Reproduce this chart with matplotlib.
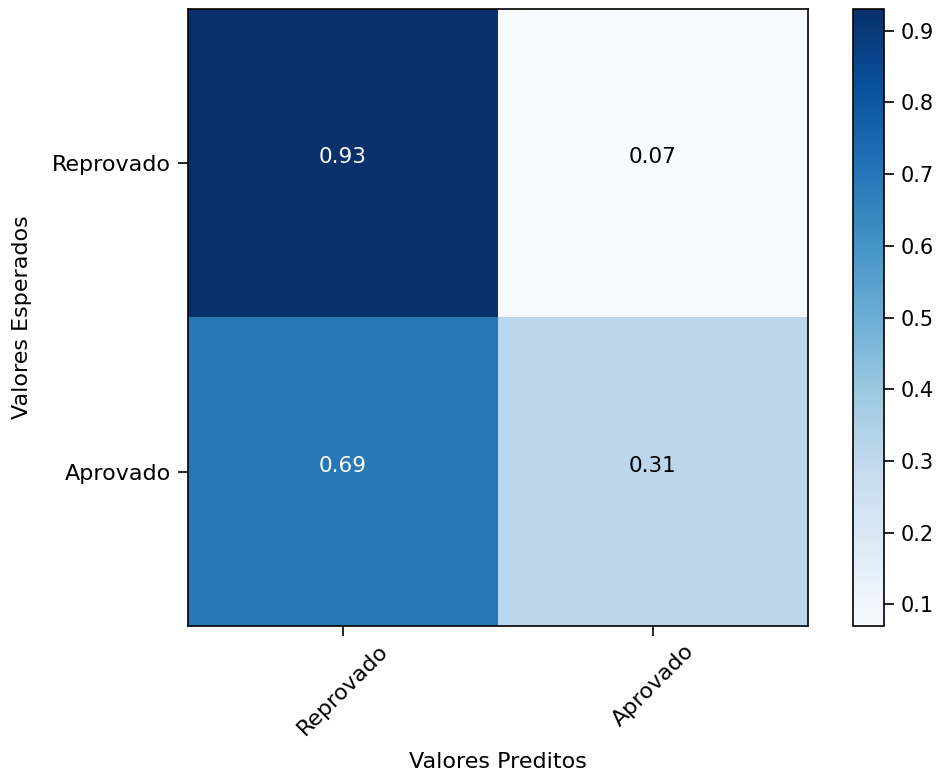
import matplotlib
matplotlib.use("Agg")
import matplotlib.pyplot as plt
import numpy as np

classes = ["Reprovado", "Aprovado"]
row_reprovado = [0.93, 0.07]
row_aprovado = [0.69, 0.31]
cm = np.array([row_reprovado, row_aprovado])
cbar_ticks = [0.1, 0.2, 0.3, 0.4, 0.5, 0.6, 0.7, 0.8, 0.9]

plt.rcParams['font.family'] = ['DejaVu Sans']
fs = 16
fs_cb = 15
fs_cell = 15.5

fig = plt.figure(figsize=(9.39, 7.78), dpi=100)
ax = fig.add_axes([188/939, 152/778, 620/939, 617/778])
cax = fig.add_axes([853/939, 152/778, 31/939, 617/778])

im = ax.imshow(cm, interpolation='nearest', cmap=plt.cm.Blues, aspect='auto')
cb = fig.colorbar(im, cax=cax)
cb.set_ticks(cbar_ticks)
cb.ax.tick_params(labelsize=fs_cb, length=7, width=1.2, pad=5)
cb.outline.set_linewidth(1.2)

ax.set_xticks(range(len(classes)))
ax.set_xticklabels(classes, rotation=45, fontsize=fs)
ax.set_yticks(range(len(classes)))
ax.set_yticklabels(classes, fontsize=fs)
ax.tick_params(length=7, width=1.2)
ax.tick_params(axis='y', pad=5)
for s in ax.spines.values():
    s.set_linewidth(1.2)

thresh = cm.max() / 2.0
for i in range(cm.shape[0]):
    for j in range(cm.shape[1]):
        ax.text(j, i - 0.02, format(cm[i, j], '.2f'), ha='center', va='center',
                fontsize=fs_cell, color='white' if cm[i, j] > thresh else 'black')

ax.set_ylabel('Valores Esperados', fontsize=fs, va='bottom')
ax.set_xlabel('Valores Preditos', fontsize=fs, va='top')
ax.yaxis.set_label_coords((32 - 188) / 620, 0.5)
ax.xaxis.set_label_coords(0.5, -(753 - 627) / 617)

fig.savefig('out.png', dpi=100)
